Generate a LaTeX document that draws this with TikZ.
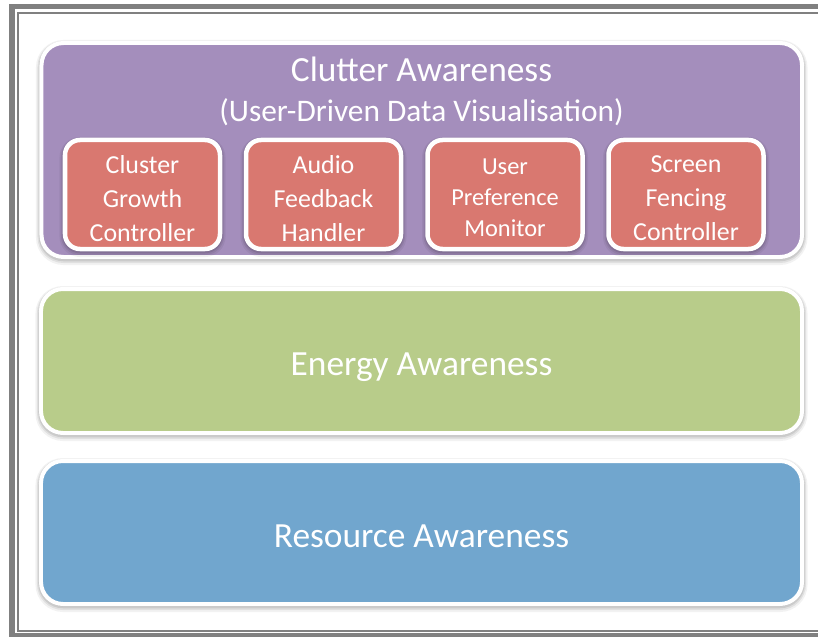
\documentclass[tikz,border=0pt]{standalone}
\usepackage{fontspec}
\setmainfont{Carlito}
\definecolor{framegray}{RGB}{128,128,128}
\definecolor{clutterpurple}{RGB}{164,142,188}
\definecolor{compred}{RGB}{217,120,112}
\definecolor{energygreen}{RGB}{184,204,138}
\definecolor{resourceblue}{RGB}{113,166,206}
\tikzset{
  shadowed/.style={
    preaction={fill=black, draw=black, opacity=0.05, line width=11bp, transform canvas={yshift=-2.5bp}},
    preaction={fill=black, draw=black, opacity=0.07, line width=8bp, transform canvas={yshift=-2bp}},
    preaction={fill=black, draw=black, opacity=0.09, line width=5.5bp, transform canvas={yshift=-1.5bp}}},
  layerbox/.style={shadowed, rectangle, rounded corners=22bp, draw=white, line width=4bp, inner sep=0pt},
  compbox/.style={shadowed, rectangle, rounded corners=15bp, draw=white, line width=4.5bp, inner sep=0pt,
    fill=compred, minimum width=155bp, minimum height=109bp},
  bigtext/.style={text=white, font=\fontsize{35.5}{40}\selectfont, anchor=base, inner sep=0pt},
  subtext/.style={text=white, font=\fontsize{31.5}{36}\selectfont, anchor=base, inner sep=0pt},
  comptext/.style={text=white, font=\fontsize{26}{34}\selectfont, align=center, inner sep=0pt},
}
\begin{document}
\begin{tikzpicture}[x=1bp,y=-1bp]
\useasboundingbox (0,0) rectangle (818,637);
\fill[white] (0,0) rectangle (818,637);
% frame
\draw[framegray, line width=5.5bp] (830,6.5) -- (12,6.5) -- (12,635.5) -- (830,635.5);
\draw[framegray, line width=1.8bp] (830,13) -- (17.6,13) -- (17.6,631.3) -- (830,631.3);
% layers
\node[layerbox, fill=clutterpurple, minimum width=760.5bp, minimum height=214bp] (clutter) at (421.75,150) {};
\node[layerbox, fill=energygreen, minimum width=761bp, minimum height=144bp] (energy) at (421.5,361) {};
\node[layerbox, fill=resourceblue, minimum width=761bp, minimum height=143bp] (resource) at (421.5,532.5) {};
\node[bigtext] (ctitle) at (421.5,82) {Clutter Awareness};
\node[subtext] (csub) at (421.5,122) {(User-Driven Data Visualisation)};
\node[bigtext] (etitle) at (421.5,375) {Energy Awareness};
\node[bigtext] (rtitle) at (421.5,547) {Resource Awareness};
% components
\node[compbox] (cgc) at (142.5,194.5) {};
\node[compbox] (afh) at (323.5,194.5) {};
\node[compbox] (upm) at (505,194.5) {};
\node[compbox] (sfc) at (686,194.5) {};
\node[comptext] (cgct) at (142.5,198.5) {Cluster\\Growth\\Controller};
\node[comptext] (afht) at (323.5,198.5) {Audio\\Feedback\\Handler};
\node[comptext, font=\fontsize{24.5}{31}\selectfont] (upmt) at (505,198) {User\\Preference\\Monitor};
\node[comptext] (sfct) at (686,198.5) {Screen\\Fencing\\Controller};
\end{tikzpicture}
\end{document}
